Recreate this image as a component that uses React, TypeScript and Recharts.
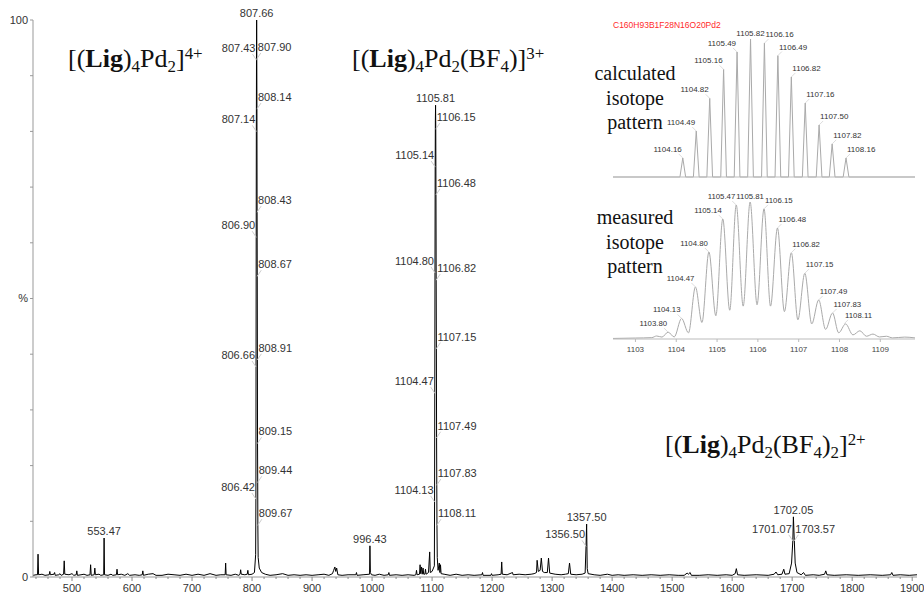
import React from 'react';
import { ComposedChart, Line, Scatter, XAxis, YAxis } from 'recharts';

const SANS = '"Liberation Sans", Arial, sans-serif';
const SERIF = '"Liberation Serif", "Times New Roman", serif';

// full ESI spectrum: [m/z, relative intensity %]
const spectrum: [number, number][] = [
  [435, 0.3], [440, 0.4], [442.5, 0.4], [443.4, 4.1], [444.3, 0.4], [450, 0.5], [455, 0.3],
  [462, 0.4], [463, 1.0], [464, 0.4], [470, 0.5], [471, 0.8], [472, 0.3], [478, 0.4], [480, 0.6],
  [482, 0.3], [486, 0.5], [487, 2.9], [488, 0.5], [495, 0.4], [500, 0.6], [503, 0.3], [507, 0.4],
  [508, 1.1], [509, 0.3], [515, 0.4], [520, 0.5], [525, 0.3], [530, 0.4], [531, 2.2], [532, 0.3],
  [537, 0.4], [538, 1.6], [539, 0.4], [545, 0.5], [548, 0.3], [552.8, 0.4], [553.47, 7.0], [554.2, 0.4],
  [560, 0.3], [565, 0.5], [568, 0.3], [574, 0.4], [575, 1.4], [576, 0.4], [582, 0.5], [588, 0.3],
  [593, 0.6], [596, 0.3], [605, 0.4], [612, 0.3], [617, 0.4], [618, 1.1], [619, 0.3], [627, 0.5],
  [635, 0.6], [640, 0.3], [650, 0.3], [660, 0.5], [670, 0.4], [680, 0.3], [690, 0.5], [700, 0.3],
  [710, 0.5], [720, 0.3], [730, 0.6], [740, 0.3], [748, 0.4], [755.2, 0.4], [756, 2.5], [756.8, 0.4],
  [765, 0.3], [772, 0.5], [778, 0.3], [780, 0.5], [781, 1.3], [782, 0.5], [788, 0.4], [792, 0.5],
  [793, 1.2], [794, 0.4], [800, 0.5], [804, 0.8],
  [806.0, 4], [806.42, 14], [806.66, 37.7], [806.9, 61], [807.14, 80], [807.43, 92.8], [807.66, 100],
  [807.9, 93], [808.14, 84], [808.43, 65.5], [808.67, 54], [808.91, 39], [809.15, 24], [809.44, 17],
  [809.67, 9.3], [810.2, 3.5], [812, 1.6], [816, 0.8], [822, 0.5], [830, 0.3],
  [840, 0.4], [851, 0.6], [860, 0.3], [870, 0.4], [880, 0.3], [890, 0.4], [900, 0.3], [910, 0.4],
  [920, 0.5], [928, 0.3], [934, 0.6], [936, 1.2], [938, 1.8], [939.5, 1.0], [941, 1.6], [943, 0.4],
  [950, 0.3], [960, 0.4], [973, 0.4], [974, 0.8], [975, 0.3], [985, 0.4], [995.8, 0.5], [996.43, 5.6],
  [997.2, 0.8], [999, 0.4], [1005, 0.3], [1012, 0.5], [1020, 0.3], [1027, 0.4], [1028, 0.8], [1029, 0.3],
  [1040, 0.4], [1050, 0.3], [1060, 0.4], [1070, 0.3], [1073, 0.4], [1074, 1.2], [1075, 0.4],
  [1079, 0.5], [1080, 2.2], [1081, 0.6], [1082.5, 1.8], [1083.5, 0.5], [1085, 1.6], [1086, 0.5],
  [1088, 0.5], [1089, 1.4], [1090, 0.5], [1094, 0.8], [1096, 4.5], [1097, 0.8], [1100, 1.0],
  [1103.8, 2], [1104.13, 13.5], [1104.47, 33], [1104.8, 54.6], [1105.14, 73.6], [1105.47, 82],
  [1105.81, 84.7], [1106.15, 80.4], [1106.48, 68.6], [1106.82, 53.3], [1107.15, 41], [1107.49, 25],
  [1107.83, 16.5], [1108.11, 9.3], [1108.6, 3.5], [1110, 1.2], [1112, 2.5], [1113, 0.8], [1114, 2.2],
  [1115, 0.6], [1120, 0.5], [1130, 0.3], [1140, 0.5], [1150, 0.3], [1160, 0.4], [1170, 0.3],
  [1183, 0.4], [1184, 0.8], [1185, 0.3], [1198, 0.3], [1199, 0.6], [1200, 0.3], [1210, 0.4],
  [1215, 0.5], [1216, 2.7], [1217, 0.5], [1225, 0.4], [1234, 0.8], [1235, 0.4], [1245, 0.5],
  [1255, 0.4], [1265, 0.5], [1270, 0.6], [1274, 0.8], [1275, 3], [1277, 1.0], [1280, 1.2], [1282, 3.4],
  [1284, 1.0], [1287, 0.8], [1292, 0.8], [1294, 3.4], [1296, 0.7], [1305, 0.5], [1315, 0.4],
  [1322, 0.5], [1327, 0.6], [1329, 2.5], [1331, 0.5], [1340, 0.4], [1350, 0.5], [1355, 0.7],
  [1356.5, 5.5], [1357.5, 9.5], [1358.5, 1.5], [1360, 0.6], [1370, 0.4], [1380, 0.3], [1392, 0.5],
  [1400, 0.3], [1410, 0.4], [1420, 0.3], [1435, 0.4], [1450, 0.3], [1465, 0.4], [1480, 0.3],
  [1495, 0.4], [1510, 0.3], [1520, 0.3], [1525, 0.7], [1527, 0.5], [1530, 0.8], [1532, 0.3],
  [1545, 0.3], [1560, 0.4], [1575, 0.3], [1590, 0.4], [1600, 0.3], [1605, 0.6], [1607, 1.5],
  [1609, 0.4], [1620, 0.3], [1640, 0.4], [1660, 0.3], [1670, 0.5], [1673, 0.9], [1676, 0.4],
  [1683, 0.5], [1686, 1.4], [1688, 0.5], [1695, 0.6], [1699, 2.5], [1701.07, 6.5], [1702.05, 10.8],
  [1703.57, 6.5], [1705, 2.5], [1708, 0.8], [1715, 0.4], [1719, 0.8], [1722, 0.3], [1735, 0.4],
  [1745, 0.3], [1754, 0.5], [1756, 1.1], [1758, 0.4], [1770, 0.3], [1790, 0.4], [1810, 0.3],
  [1830, 0.4], [1850, 0.3], [1864, 0.4], [1866, 0.8], [1868, 0.3], [1880, 0.4], [1895, 0.3], [1908, 0.4],
];

// peak labels of the main spectrum [m/z, %]
const mainTopLabels: [number, number][] = [
  [807.66, 100], [1105.81, 84.7], [553.47, 7.0], [996.43, 5.6], [1357.5, 9.5], [1702.05, 10.8],
];
const mainLeftLabels: [number, number][] = [
  [807.43, 92.8], [807.14, 80], [806.9, 61], [806.66, 37.7], [806.42, 14],
  [1105.14, 73.6], [1104.8, 54.6], [1104.47, 33], [1104.13, 13.5], [1356.5, 5.5], [1701.07, 6.5],
];
const mainRightLabels: [number, number][] = [
  [807.9, 93], [808.14, 84], [808.43, 65.5], [808.67, 54], [808.91, 39], [809.15, 24], [809.44, 17],
  [809.67, 9.3], [1106.15, 80.4], [1106.48, 68.6], [1106.82, 53.3], [1107.15, 41], [1107.49, 25],
  [1107.83, 16.5], [1108.11, 9.3], [1703.57, 6.5],
];

const yTicks = [0, 10, 20, 30, 40, 50, 60, 70, 80, 90, 100];

// inset: calculated isotope pattern [m/z, %]
const calcLeft: [number, number][] = [
  [1104.16, 13.8], [1104.49, 33.3], [1104.82, 57], [1105.16, 78], [1105.49, 90.6],
];
const calcTop: [number, number][] = [[1105.82, 100]];
const calcRight: [number, number][] = [
  [1106.16, 97], [1106.49, 88], [1106.82, 72.5], [1107.16, 53.6], [1107.5, 37.7], [1107.82, 24], [1108.16, 13.8],
];

// inset: measured isotope pattern (peaks and valleys) [m/z, %]
const measured: [number, number][] = [
  [1102.45, 0.4], [1103.0, 0.7], [1103.4, 1.0], [1103.52, 2.2], [1103.65, 1.4], [1103.8, 5],
  [1103.95, 1.5], [1104.13, 15], [1104.3, 4.5], [1104.47, 38], [1104.63, 12], [1104.8, 63.5],
  [1104.97, 17], [1105.14, 87.6], [1105.31, 21], [1105.47, 97.8], [1105.64, 24], [1105.81, 100],
  [1105.98, 25], [1106.15, 95], [1106.31, 24], [1106.48, 81], [1106.65, 20], [1106.82, 63],
  [1106.98, 14], [1107.15, 48], [1107.32, 11], [1107.49, 28.5], [1107.66, 7], [1107.83, 19],
  [1107.98, 4.5], [1108.15, 11], [1108.33, 3], [1108.5, 6], [1108.66, 2], [1108.82, 3.6],
  [1108.98, 1.5], [1109.15, 2], [1109.3, 0.8], [1109.6, 1.4], [1109.85, 0.8],
];
const measLeft: [number, number][] = [
  [1103.8, 5], [1104.13, 15], [1104.47, 38], [1104.8, 63.5], [1105.14, 87.6], [1105.47, 97.8],
];
const measTop: [number, number][] = [[1105.81, 100]];
const measRight: [number, number][] = [
  [1106.15, 95], [1106.48, 81], [1106.82, 63], [1107.15, 48], [1107.49, 28.5], [1107.83, 19], [1108.11, 11],
];
const insetTicks = [1103, 1104, 1105, 1106, 1107, 1108, 1109];

const toRows = (pts: [number, number][]) => pts.map(([mz, pct]) => ({ mz, pct }));

// calculated peaks drawn as narrow spikes on a zero baseline
const calcPeaks = [...calcLeft, ...calcTop, ...calcRight].sort((a, b) => a[0] - b[0]);
const calcRows = [{ mz: 1102.45, pct: 0 }];
calcPeaks.forEach(([mz, pct]) => {
  calcRows.push({ mz: mz - 0.07, pct: 0 }, { mz, pct }, { mz: mz + 0.07, pct: 0 });
});
calcRows.push({ mz: 1109.85, pct: 0 });

type Side = 'left' | 'right' | 'top';

const peakLabel = (side: Side, fs: number, dy: number, lead: string) => (p: any) => {
  const { cx, cy, payload } = p;
  if (cx == null || cy == null) return <g />;
  const txt = payload.mz.toFixed(2);
  if (side === 'top') {
    return (
      <text x={cx} y={cy - 3} textAnchor="middle" fontSize={fs} fill="#333" fontFamily={SANS}>
        {txt}
      </text>
    );
  }
  const s = side === 'left' ? -1 : 1;
  return (
    <g>
      <line x1={cx} y1={cy} x2={cx + s * 4} y2={cy - dy + 2} stroke={lead} strokeWidth={1} />
      <text x={cx + s} y={cy - dy} textAnchor={side === 'left' ? 'end' : 'start'} fontSize={fs} fill="#333" fontFamily={SANS}>
        {txt}
      </text>
    </g>
  );
};

const XTick = (props: any) => {
  const { x, y, payload } = props;
  const major = payload.value % 100 === 0;
  return (
    <g>
      <line x1={x} x2={x} y1={y} y2={y + (major ? 4 : 2)} stroke="#888" />
      {major && (
        <text x={x} y={y + 15} textAnchor="middle" fontSize={11} fill="#333" fontFamily={SANS}>
          {payload.value}
        </text>
      )}
    </g>
  );
};

const mainTicks: number[] = [];
for (let t = 440; t <= 1900; t += 20) mainTicks.push(t);

const Sub = ({ children }: { children: React.ReactNode }) => (
  <span style={{ fontSize: '0.65em', verticalAlign: '-0.3em' }}>{children}</span>
);
const Sup = ({ children }: { children: React.ReactNode }) => (
  <span style={{ fontSize: '0.65em', verticalAlign: '0.45em' }}>{children}</span>
);

const titleStyle = (left: number, top: number): React.CSSProperties => ({
  position: 'absolute', left, top, fontFamily: SERIF, fontSize: 26, lineHeight: '26px',
  color: '#111', whiteSpace: 'nowrap',
});

const insetTextStyle = (top: number): React.CSSProperties => ({
  position: 'absolute', left: 585, top, width: 100, textAlign: 'center', fontFamily: SERIF,
  fontSize: 20, lineHeight: '24.5px', color: '#111',
});

function Inset({ top, height, marginTop, axisHeight, showLabels, children }: any) {
  return (
    <div style={{ position: 'absolute', left: 590, top }}>
      <ComposedChart width={340} height={height} margin={{ top: marginTop, right: 15, left: 23, bottom: 0 }}>
        <XAxis
          dataKey="mz"
          type="number"
          domain={[1102.45, 1109.85]}
          allowDataOverflow
          ticks={insetTicks}
          interval={0}
          height={axisHeight}
          stroke="#bbb"
          tickSize={3}
          tickMargin={4}
          tick={showLabels ? { fontSize: 8, fill: '#444', fontFamily: SANS } : false}
        />
        <YAxis type="number" domain={[0, 100]} hide />
        {children}
      </ComposedChart>
    </div>
  );
}

export default function App() {
  const specRows = toRows(spectrum);
  return (
    <div style={{ position: 'absolute', left: 0, top: 0, width: 924, height: 595, background: '#fff', overflow: 'hidden' }}>
      <ComposedChart width={924} height={595} data={specRows} margin={{ top: 20, right: 7, left: 0, bottom: 0 }}>
        <XAxis
          dataKey="mz"
          type="number"
          domain={[435, 1908]}
          allowDataOverflow
          ticks={mainTicks}
          interval={0}
          height={18}
          stroke="#999"
          tickLine={false}
          tickSize={0}
          tickMargin={0}
          tick={<XTick />}
        />
        <YAxis
          type="number"
          domain={[0, 100]}
          ticks={yTicks}
          interval={0}
          width={33}
          stroke="#999"
          tickSize={3}
          tickMargin={2}
          tick={{ fontSize: 11, fill: '#333', fontFamily: SANS }}
          tickFormatter={(v: number) => (v === 0 ? '0' : v === 100 ? '100' : v === 50 ? '%' : '')}
        />
        <Line dataKey="pct" type="linear" stroke="#000" strokeWidth={1} dot={false} isAnimationActive={false} />
        <Scatter data={toRows(mainTopLabels)} dataKey="pct" shape={peakLabel('top', 11, 8, '#ccc')} isAnimationActive={false} />
        <Scatter data={toRows(mainLeftLabels)} dataKey="pct" shape={peakLabel('left', 11, 8, '#ccc')} isAnimationActive={false} />
        <Scatter data={toRows(mainRightLabels)} dataKey="pct" shape={peakLabel('right', 11, 8, '#ccc')} isAnimationActive={false} />
      </ComposedChart>

      <Inset top={20} height={170} marginTop={19} axisHeight={13} showLabels={false}>
        <Line data={calcRows} dataKey="pct" type="linear" stroke="#aaa" strokeWidth={1} dot={false} isAnimationActive={false} />
        <Scatter data={toRows(calcTop)} dataKey="pct" shape={peakLabel('top', 8, 6, '#ddd')} isAnimationActive={false} />
        <Scatter data={toRows(calcLeft)} dataKey="pct" shape={peakLabel('left', 8, 6, '#ddd')} isAnimationActive={false} />
        <Scatter data={toRows(calcRight)} dataKey="pct" shape={peakLabel('right', 8, 6, '#ddd')} isAnimationActive={false} />
      </Inset>

      <Inset top={185} height={180} marginTop={17} axisHeight={26} showLabels>
        <Line data={toRows(measured)} dataKey="pct" type="monotone" stroke="#aaa" strokeWidth={1} dot={false} isAnimationActive={false} />
        <Scatter data={toRows(measTop)} dataKey="pct" shape={peakLabel('top', 7.8, 6, '#ddd')} isAnimationActive={false} />
        <Scatter data={toRows(measLeft)} dataKey="pct" shape={peakLabel('left', 7.8, 6, '#ddd')} isAnimationActive={false} />
        <Scatter data={toRows(measRight)} dataKey="pct" shape={peakLabel('right', 7.8, 6, '#ddd')} isAnimationActive={false} />
      </Inset>

      <div style={{ position: 'absolute', left: 613, top: 21, fontFamily: SANS, fontSize: 8.5, lineHeight: 1, color: '#ff2a2a' }}>
        C160H93B1F28N16O20Pd2
      </div>
      <div style={insetTextStyle(61)}>calculated<br />isotope<br />pattern</div>
      <div style={insetTextStyle(205)}>measured<br />isotope<br />pattern</div>

      <div style={titleStyle(68, 41)}>
        [(<b>Lig</b>)<Sub>4</Sub>Pd<Sub>2</Sub>]<Sup>4+</Sup>
      </div>
      <div style={titleStyle(352, 41)}>
        [(<b>Lig</b>)<Sub>4</Sub>Pd<Sub>2</Sub>(BF<Sub>4</Sub>)]<Sup>3+</Sup>
      </div>
      <div style={titleStyle(665, 427)}>
        [(<b>Lig</b>)<Sub>4</Sub>Pd<Sub>2</Sub>(BF<Sub>4</Sub>)<Sub>2</Sub>]<Sup>2+</Sup>
      </div>
    </div>
  );
}
